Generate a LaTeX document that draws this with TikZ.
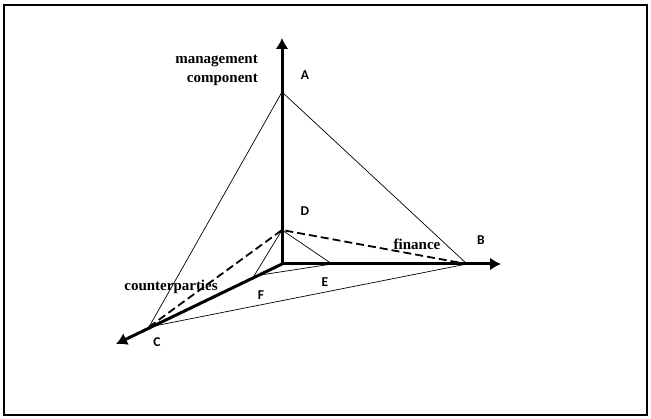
\documentclass[tikz,border=0pt]{standalone}
\usepackage{fontspec}
\setmainfont{Liberation Serif}
\newfontfamily\letterfont{Carlito}
\usetikzlibrary{arrows.meta}

\tikzset{
  axis/.style={line width=3pt, -{Latex[length=11pt,width=13pt]}},
  edge/.style={line width=0.7pt},
  hidden/.style={line width=1.8pt, dash pattern=on 8pt off 4pt},
  vlabel/.style={font=\fontsize{13.5}{15}\selectfont\letterfont\bfseries},
  axlabel/.style={font=\fontsize{15}{19}\selectfont\bfseries, inner sep=0pt}
}

\begin{document}
\begin{tikzpicture}[x=1pt, y=-1pt]
    % Fix the size of the picture and draw the frame
    \useasboundingbox (0,0) rectangle (651,419);
    \draw[line width=2pt] (4,5) rectangle (647,415);

    % Corner points
    \coordinate (O) at (282,264);
    \coordinate (A) at (282,92);
    \coordinate (B) at (467,264);
    \coordinate (C) at (149,327);
    \coordinate (D) at (282,230);
    \coordinate (E) at (332,264);
    \coordinate (F) at (254,276);

    % Axis ends
    \coordinate (ytip) at (282,38);
    \coordinate (xtip) at (501,264);
    \coordinate (ztip) at (116,344);

    % Draw the faces
    \draw[edge] (A) -- (B) -- (C) -- cycle;
    \draw[edge] (D) -- (E) -- (F) -- cycle;
    \draw[hidden] (C) -- (D) -- (B);

    % Draw the axes
    \draw[axis] (O) -- (ytip);
    \draw[axis] (O) -- (xtip);
    \draw[axis] (O) -- (ztip);

    % Label the points
    \node[vlabel] (labA) at (305,75) {A};
    \node[vlabel] (labB) at (481,240) {B};
    \node[vlabel] (labC) at (157,342) {C};
    \node[vlabel] (labD) at (305,211) {D};
    \node[vlabel] (labE) at (325,282) {E};
    \node[vlabel] (labF) at (261,295) {F};

    % Label the axes
    \node[axlabel, anchor=east, align=right] (mgmt) at (258,70) {management\\component};
    \node[axlabel] (fin) at (417,244) {finance};
    \node[axlabel] (cpty) at (171,287) {counterparties};
\end{tikzpicture}
\end{document}
